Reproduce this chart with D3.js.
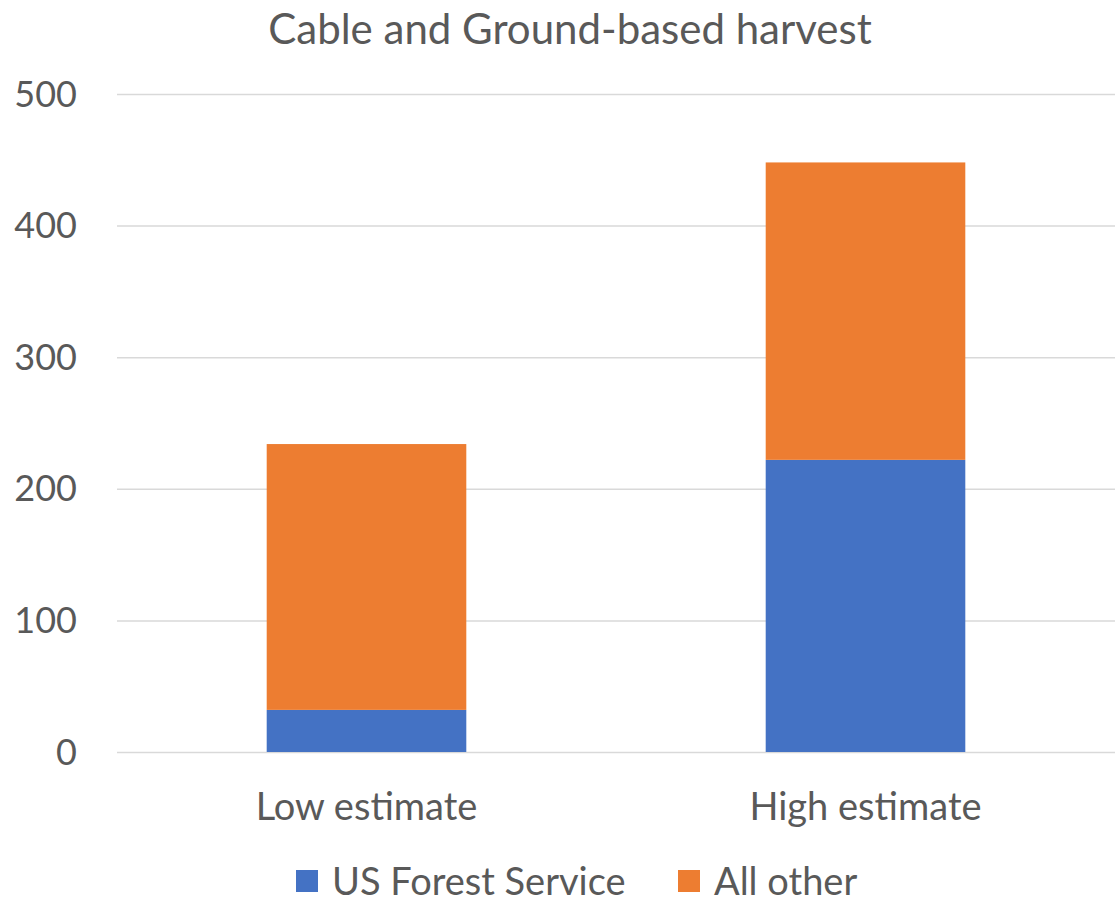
<!DOCTYPE html>
<html>
<head>
    <meta charset="UTF-8">
    <title>Cable and Ground-based harvest</title>
    <style>
        body { margin: 0; background: #fff; }
        text { font-family: Lato, "Open Sans", sans-serif; fill: #595959; }
        .grid line { stroke: #d9d9d9; stroke-width: 1.5px; }
        .grid path { display: none; }
    </style>
</head>
<body>
<svg width="1115" height="904"></svg>
<script src="https://cdn.jsdelivr.net/npm/d3@7"></script>
<script>
    // data
    var categories = ["Low estimate", "High estimate"];
    var seriesNames = ["US Forest Service", "All other"];
    var usForestService = [32, 222];
    var allOther = [202, 226];
    var yTicks = [0, 100, 200, 300, 400, 500];
    var colors = ["#4472c4", "#ed7d31"];

    var svg = d3.select("svg");
    var margin = {top: 94, right: 0, bottom: 152, left: 117};
    var width = +svg.attr("width") - margin.left - margin.right;
    var height = +svg.attr("height") - margin.top - margin.bottom;
    var g = svg.append("g").attr("transform", "translate(" + margin.left + "," + margin.top + ")");

    var table = categories.map(function (c, i) {
        return {cat: c, "US Forest Service": usForestService[i], "All other": allOther[i]};
    });
    var stack = d3.stack().keys(seriesNames)(table);

    var x = d3.scaleBand().domain(categories).range([0, width]).paddingInner(0.6).paddingOuter(0.3);
    var y = d3.scaleLinear().domain([0, 500]).range([height, 0]);

    // gridlines
    g.append("g")
        .attr("class", "grid")
        .call(d3.axisLeft(y).tickValues(yTicks).tickSize(-width).tickFormat(""));

    // y labels
    g.selectAll(".ylab")
        .data(yTicks)
        .enter().append("text")
        .attr("class", "ylab")
        .attr("x", -40)
        .attr("y", function (d) { return y(d); })
        .attr("dy", "0.35em")
        .attr("text-anchor", "end")
        .style("font-size", "36px")
        .text(function (d) { return d; });

    // bars
    g.selectAll(".series")
        .data(stack)
        .enter().append("g")
        .attr("fill", function (d, i) { return colors[i]; })
        .selectAll("rect")
        .data(function (d) { return d; })
        .enter().append("rect")
        .attr("x", function (d) { return x(d.data.cat); })
        .attr("width", x.bandwidth())
        .attr("y", function (d) { return y(d[1]); })
        .attr("height", function (d) { return y(d[0]) - y(d[1]); });

    // category labels
    g.selectAll(".xlab")
        .data(categories)
        .enter().append("text")
        .attr("x", function (d) { return x(d) + x.bandwidth() / 2; })
        .attr("y", height + 68)
        .attr("text-anchor", "middle")
        .style("font-size", "38px")
        .text(function (d) { return d; });

    // title
    svg.append("text")
        .attr("x", 570)
        .attr("y", 44)
        .attr("text-anchor", "middle")
        .style("font-size", "42px")
        .text("Cable and Ground-based harvest");

    // legend
    var legendX = [296, 678];
    var legend = svg.selectAll(".legend")
        .data(seriesNames)
        .enter().append("g")
        .attr("transform", function (d, i) { return "translate(" + legendX[i] + ",870)"; });
    legend.append("rect")
        .attr("width", 22).attr("height", 22)
        .attr("fill", function (d, i) { return colors[i]; });
    legend.append("text")
        .attr("x", 36).attr("y", 11).attr("dy", "0.36em")
        .style("font-size", "38px")
        .text(function (d) { return d; });
</script>
</body>
</html>
